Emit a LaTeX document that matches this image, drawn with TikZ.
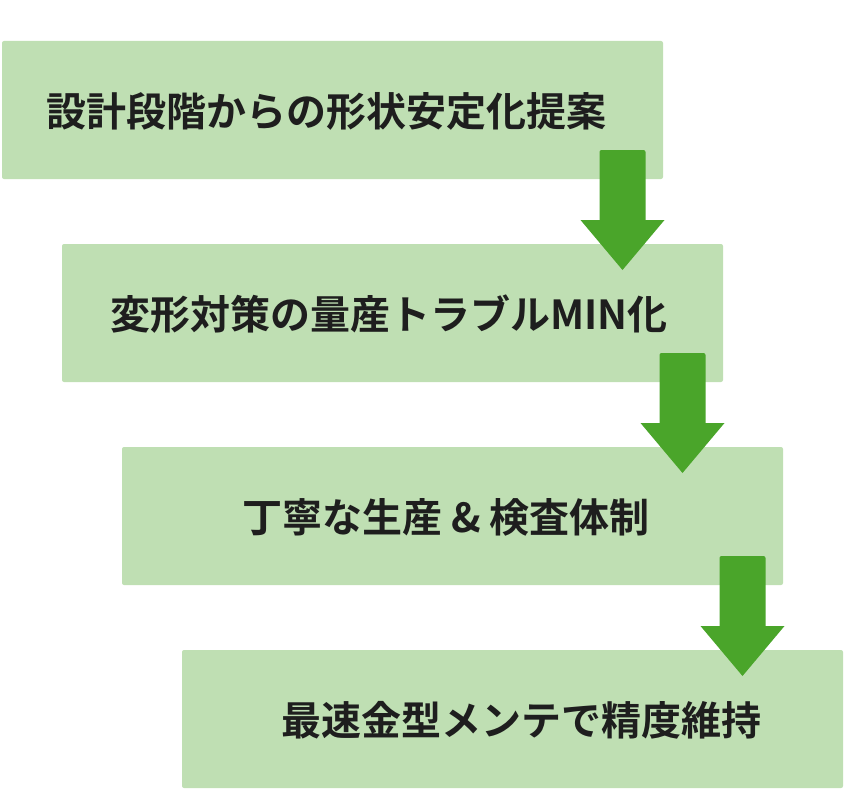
\documentclass[tikz,border=0pt]{standalone}
\usepackage{fontspec}
\setmainfont{Noto Sans CJK JP Bold}
\definecolor{boxgreen}{HTML}{BFDFB3}
\definecolor{arrowgreen}{HTML}{4AA52A}
\definecolor{txt}{HTML}{1E1E1E}
\tikzset{
  stepbox/.style={fill=boxgreen, draw=none, rounded corners=2pt},
  steptext/.style={inner sep=0pt, text=txt, font=\fontsize{40}{40}\selectfont},
  downarrow/.style={fill=arrowgreen, draw=none}
}
\begin{document}
\begin{tikzpicture}[x=1pt,y=-1pt]
\useasboundingbox (0,0) rectangle (850,800);
\foreach \k in {0,1,2,3}{
  \fill[stepbox] (2+60*\k,41+203*\k) rectangle (663+60*\k,179+203*\k);
}
\node[steptext] (t1) at (326,111) {設計段階からの形状安定化提案};
\node[steptext] (t2) at (389,314) {変形対策の量産トラブルMIN化};
\node[steptext] (t3) at (446,517) {丁寧な生産 \& 検査体制};
\node[steptext] (t4) at (521,720) {最速金型メンテで精度維持};
\foreach \k in {0,1,2}{
  \fill[downarrow] (599.5+60*\k,220+203*\k)
    {[rounded corners=2pt] -- (599.5+60*\k,150+203*\k) -- (645.5+60*\k,150+203*\k)}
    -- (645.5+60*\k,220+203*\k)
    -- (664.5+60*\k,220+203*\k) -- (622.5+60*\k,270+203*\k) -- (580.5+60*\k,220+203*\k) -- cycle;
}
\end{tikzpicture}
\end{document}
